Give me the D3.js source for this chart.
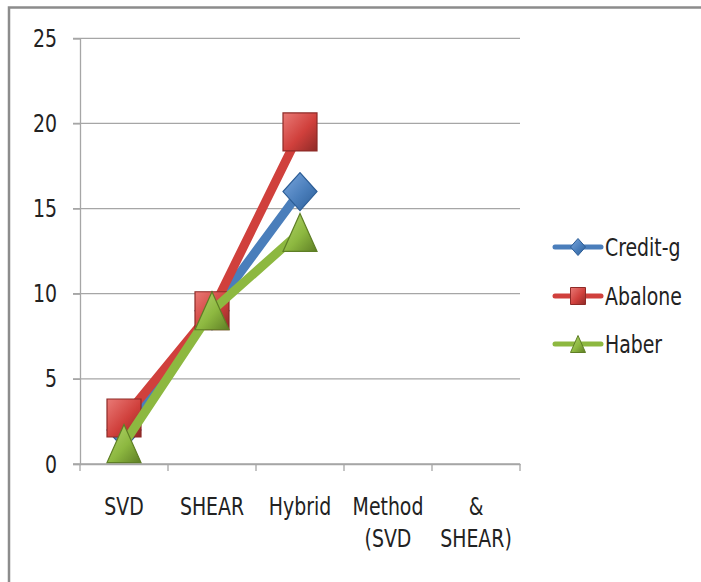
<!DOCTYPE html>
<html lang="en">
<head>
    <meta charset="UTF-8">
    <title>Credit-g / Abalone / Haber</title>
    <script src="https://d3js.org/d3.v7.min.js"></script>
    <style>
        body { margin: 0; background: #fff; }
        svg { display: block; font-family: "Liberation Sans Narrow", "DejaVu Sans Condensed", sans-serif; }
    </style>
</head>
<body>
    <svg width="701" height="582"></svg>
    <script>
        // data
        let categories = ["SVD", "SHEAR", "Hybrid", "Method (SVD", "& SHEAR)"];
        let seriesNames = ["Credit-g", "Abalone", "Haber"];
        let creditG = [2, 9, 16];
        let abalone = [2.7, 9, 19.5];
        let haber = [1.2, 9, 13.6];
        let yTicks = [0, 5, 10, 15, 20, 25];

        let width = 701, height = 582;
        let margin = { top: 38.3, left: 80, right: 181, bottom: 118 };
        let fs = 21, stretch = 1.14; // the original text is a bit taller than wide

        let svg = d3.select("svg");

        // outer frame (right and bottom edges fall outside the picture)
        svg.append("rect")
            .attr("x", 9).attr("y", 7.5)
            .attr("width", 760).attr("height", 640)
            .attr("fill", "none").attr("stroke", "#8c8c8c").attr("stroke-width", 2.5);

        let x = d3.scaleBand()
            .domain(categories)
            .range([margin.left, width - margin.right]);

        let y = d3.scaleLinear()
            .domain([0, 25])
            .range([height - margin.bottom, margin.top]);

        function label(px, py, str, anchor) {
            return svg.append("text")
                .attr("transform", `translate(${px},${py}) scale(1,${stretch})`)
                .attr("text-anchor", anchor)
                .attr("font-size", fs)
                .attr("fill", "#222")
                .text(str);
        }

        // gridlines
        svg.append("g")
            .selectAll("line")
            .data(yTicks)
            .enter().append("line")
            .attr("x1", margin.left - 7).attr("x2", width - margin.right)
            .attr("y1", d => y(d)).attr("y2", d => y(d))
            .attr("stroke", "#a6a6a6").attr("stroke-width", 1.3);

        // y axis
        let yAxis = svg.append("g")
            .attr("transform", `translate(${margin.left},0)`)
            .call(d3.axisLeft(y).tickValues(yTicks).tickSize(7).tickFormat(""));
        yAxis.select(".domain").attr("stroke", "#a6a6a6").attr("stroke-width", 1.3);
        yAxis.selectAll(".tick line").attr("stroke", "#a6a6a6").attr("stroke-width", 1.3);
        yTicks.forEach(t => label(margin.left - 23, y(t) + 8.5, t, "end"));

        // x axis with boundary ticks
        let xAxis = svg.append("g")
            .attr("transform", `translate(0,${y(0)})`)
            .call(d3.axisBottom(x).tickSize(0).tickFormat(""));
        xAxis.select(".domain").attr("stroke", "#a6a6a6").attr("stroke-width", 1.3);
        let bounds = categories.map(c => x(c)).concat([width - margin.right]);
        xAxis.selectAll(".bound")
            .data(bounds)
            .enter().append("line")
            .attr("x1", d => d).attr("x2", d => d)
            .attr("y1", 0).attr("y2", 7)
            .attr("stroke", "#a6a6a6").attr("stroke-width", 1.3);

        // category labels, wrapped on spaces like the original
        categories.forEach(c => {
            c.split(" ").forEach((w, i) => {
                label(x(c) + x.bandwidth() / 2, y(0) + 51 + i * 32, w, "middle");
            });
        });

        let series = [
            { name: seriesNames[0], values: creditG, color: "#4a7ebb", dark: "#2c5d96", light: "#7ba7de", shape: "diamond" },
            { name: seriesNames[1], values: abalone, color: "#d0403c", dark: "#8e2a27", light: "#e97a76", shape: "square" },
            { name: seriesNames[2], values: haber, color: "#8db840", dark: "#5e7e25", light: "#b5d66f", shape: "triangle" }
        ];

        function markerPath(shape, w, h) {
            let a = w / 2, b = h / 2;
            if (shape === "diamond") return `M0,${-b}L${a},0L0,${b}L${-a},0Z`;
            if (shape === "square") return `M${-a},${-b}H${a}V${b}H${-a}Z`;
            return `M0,${-b}L${a},${b}H${-a}Z`;
        }

        let defs = svg.append("defs");
        series.forEach((s, i) => {
            let g = defs.append("linearGradient").attr("id", "grad" + i)
                .attr("x1", 0).attr("y1", 0).attr("x2", 1).attr("y2", 1);
            g.append("stop").attr("offset", "0%").attr("stop-color", s.light);
            g.append("stop").attr("offset", "55%").attr("stop-color", s.color);
            g.append("stop").attr("offset", "100%").attr("stop-color", s.dark);
        });

        let line = d3.line()
            .x((d, i) => x(categories[i]) + x.bandwidth() / 2)
            .y(d => y(d));

        series.forEach((s, si) => {
            let g = svg.append("g");
            g.append("path")
                .datum(s.values)
                .attr("d", line)
                .attr("fill", "none")
                .attr("stroke", s.color)
                .attr("stroke-width", 9)
                .attr("stroke-linejoin", "round");
            g.selectAll(".m")
                .data(s.values)
                .enter().append("path")
                .attr("transform", (d, i) => `translate(${x(categories[i]) + x.bandwidth() / 2},${y(d)})`)
                .attr("d", markerPath(s.shape, 34, 38))
                .attr("fill", `url(#grad${si})`)
                .attr("stroke", s.dark)
                .attr("stroke-width", 1.2);
        });

        // legend
        let legendY = [247, 296, 344];
        series.forEach((s, i) => {
            let g = svg.append("g").attr("transform", `translate(555,${legendY[i]})`);
            g.append("line")
                .attr("x1", 0).attr("x2", 46).attr("y1", 0).attr("y2", 0)
                .attr("stroke", s.color).attr("stroke-width", 5).attr("stroke-linecap", "round");
            g.append("path")
                .attr("transform", "translate(23,0)")
                .attr("d", markerPath(s.shape, 15, 17))
                .attr("fill", `url(#grad${i})`)
                .attr("stroke", s.dark).attr("stroke-width", 1);
            label(555 + 50, legendY[i] + 8.5, s.name, "start");
        });
    </script>
</body>
</html>
